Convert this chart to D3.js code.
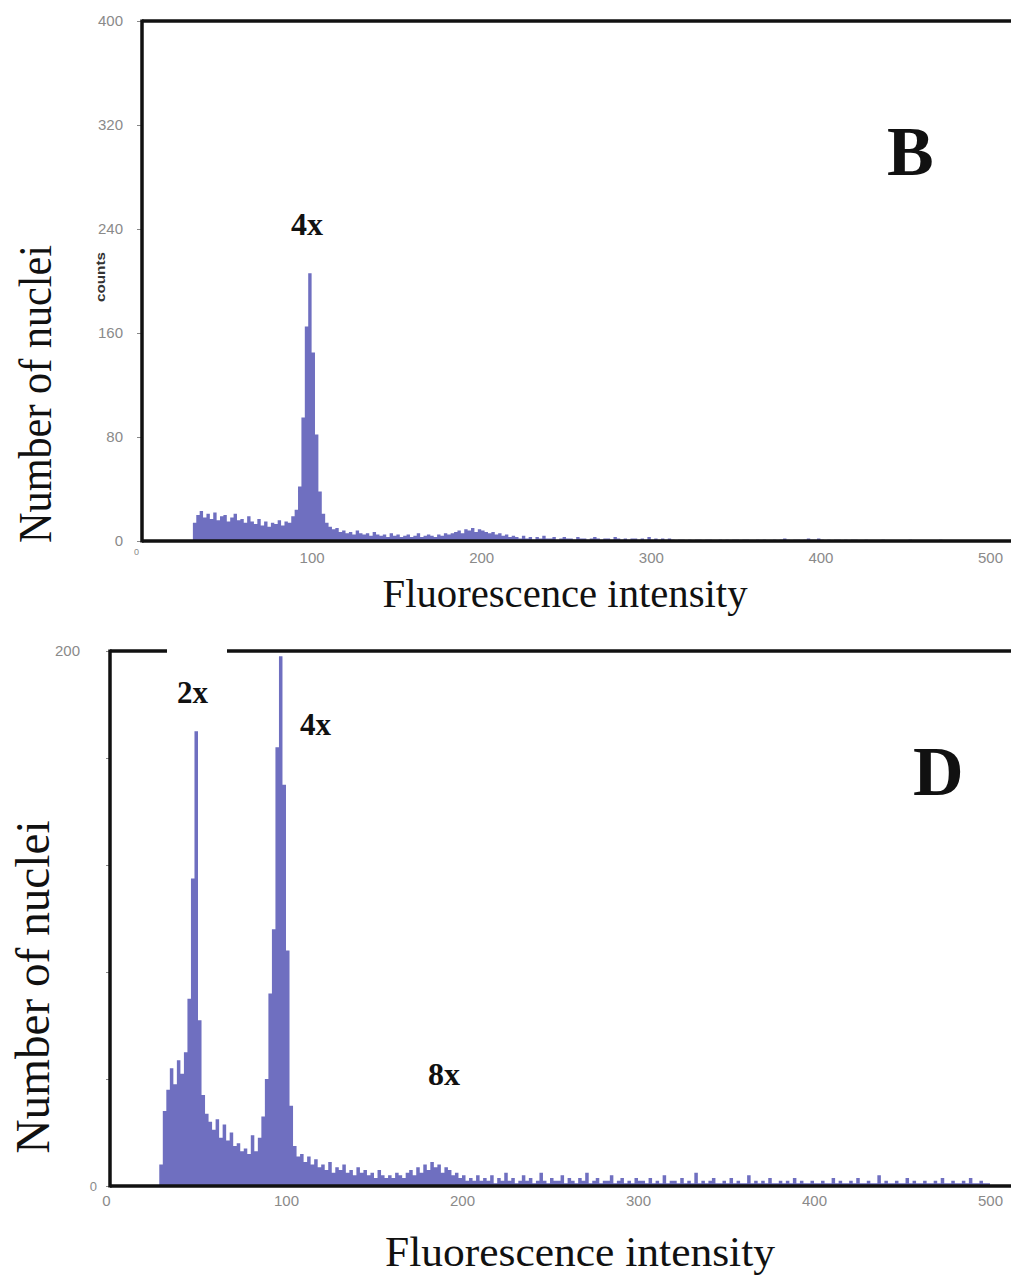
<!DOCTYPE html>
<html><head><meta charset="utf-8">
<script src="https://cdn.jsdelivr.net/npm/d3@7"></script>
<style>body{margin:0;background:#fff} svg{display:block}</style>
</head><body>
<svg id="chart" width="1011" height="1281"></svg>
<script>
// ---------- data ----------
const binWidth = 2;                       // channel width of each histogram bin
const xTicks = [0, 100, 200, 300, 400, 500];
const yTicksB = [0, 80, 160, 240, 320, 400];
const yTicksD = [0, 40, 80, 120, 160, 200];
const yLabelsD = [0, 200];

// Panel B: counts per bin (bins start at channel 0, width 2)
const countsB = [
  0,0,0,0,0,0,0,0,0,0,0,0,0,0,0,
  14,20,23,18,21,17,22,16,19,20,15,18,21,16,17,14,19,15,13,17,12,15,11,14,13,16,12,15,14,19,
  24,42,95,165,206,145,82,38,21,14,11,
  9,10,7,8,6,7,5,8,6,5,6,4,7,5,4,5,3,6,4,5,3,4,5,3,4,6,3,4,5,4,3,5,4,6,5,
  6,7,8,6,9,8,10,7,9,8,7,6,7,5,6,4,5,3,4,
  3,2,4,2,3,1,3,2,4,2,2,3,1,2,3,2,2,1,3,2,2,1,2,3,2,1,2,2,1,3,2,1,2,1,2,2,1,2,1,3,1,2,1,2,1,2,
  1,0,1,1,0,1,0,1,1,0,1,1,0,0,1,0,1,0,1,1,0,1,1,0,0,1,0,1,0,0,1,0,1,2,1,0,1,1,0,1,2,1,1,2,1,0,1,0,1,1,0,1,0,1,1,
  0,0,1,0,0,0,0,1,0,0,0,0,0,0,0,1,0,0,0,0,0,0,0,0,1,0,0,0,0,0,0,0,0,0,0,0,0,0,0
];

// Panel D: counts per bin (bins start at channel 0, width 2)
const countsD = [
  0,0,0,0,0,0,0,0,0,0,0,0,0,0,
  8,28,36,44,38,47,42,50,70,115,170,62,34,27,24,
  21,25,18,23,17,20,15,16,13,14,12,19,13,18,26,
  40,72,96,164,198,150,88,30,15,11,
  12,9,11,8,10,7,8,6,9,5,7,6,8,5,6,4,7,5,6,4,5,3,6,4,3,4,3,5,4,3,5,6,4,7,5,8,6,9,7,8,5,7,6,4,5,3,4,2,3,2,4,2,
  3,2,4,1,3,2,5,2,3,1,2,4,2,3,1,2,5,2,1,3,2,2,4,1,3,2,1,3,2,5,1,2,3,1,2,2,4,1,2,3,1,2,1,3,2,
  2,1,3,1,2,1,4,1,2,2,1,3,1,2,1,5,1,2,1,2,3,1,1,2,1,3,1,2,1,1,4,1,2,1,2,1,3,1,1,2,1,2,1,3,1,2,1,1,2,1,
  1,2,1,1,3,1,2,1,1,2,1,3,1,1,2,1,1,4,1,2,1,1,2,1,1,3,1,2,1,1,2,1,1,2,1,3,1,1,2,1,1,2,1,3,1,1,2,1,1
];

// ---------- drawing ----------
const svg = d3.select("#chart");
const FILL = "#6f6fc0";
const SERIF = "'Liberation Serif', 'Times New Roman', serif";
const SANS = "'Liberation Sans', Arial, sans-serif";

function panel(opts) {
  const { counts, x, y, yTicks, yFmt, frameRight, gap } = opts;
  const g = svg.append("g");
  const pts = counts.map((v, i) => [i * binWidth, v]);
  pts.push([counts.length * binWidth, 0]);
  const area = d3.area()
    .x(d => x(d[0])).y0(y(0)).y1(d => y(d[1]))
    .curve(d3.curveStepAfter);
  g.append("path").datum(pts).attr("d", area).attr("fill", FILL);

  // y axis ticks + labels
  const ya = g.append("g").attr("transform", `translate(${x(0)},0)`)
    .call(d3.axisLeft(y).tickValues(yTicks).tickSize(opts.yTickSize).tickPadding(opts.yPad).tickFormat(yFmt));
  ya.select(".domain").remove();
  ya.selectAll(".tick line").attr("stroke", "#888").attr("stroke-width", 1);
  ya.selectAll(".tick text").attr("fill", "#8a8a8a").style("font-family", SANS).style("font-size", "15px");

  // x axis labels
  const xa = g.append("g").attr("transform", `translate(0,${y(0)})`)
    .call(d3.axisBottom(x).tickValues(xTicks).tickSize(0).tickPadding(opts.xPad));
  xa.select(".domain").remove();
  xa.selectAll(".tick text").attr("fill", "#8a8a8a").style("font-family", SANS).style("font-size", "15px");

  // frame
  const x0 = x(0), yb = y(0), yt = y(yTicks[yTicks.length - 1]);
  const line = (a, b, c, d) => g.append("line").attr("x1", a).attr("y1", b).attr("x2", c).attr("y2", d)
    .attr("stroke", "#111").attr("stroke-width", 3.5);
  line(x0, yt - 1.5, x0, yb + 1.5);
  line(x0, yb, frameRight, yb);
  if (gap) { line(x0, yt, gap[0], yt); line(gap[1], yt, frameRight, yt); }
  else line(x0, yt, frameRight, yt);
  return { g, ya, xa };
}

// Panel B
const xB = d3.scaleLinear().domain([0, 500]).range([142, 990]);
const yB = d3.scaleLinear().domain([0, 400]).range([541, 21]);
const pB = panel({ counts: countsB, x: xB, y: yB, yTicks: yTicksB, yFmt: d => d,
  yTickSize: 5, yPad: 14, xPad: 11, frameRight: 1011 });
pB.xa.selectAll(".tick text").filter(d => d === 0)
  .style("font-size", "9px").attr("dx", -6).attr("dy", "0.3em");

// Panel D
const xD = d3.scaleLinear().domain([0, 500]).range([110, 990]);
const yD = d3.scaleLinear().domain([0, 200]).range([1186, 651]);
const pD = panel({ counts: countsD, x: xD, y: yD, yTicks: yTicksD,
  yFmt: d => yLabelsD.includes(d) ? d : "",
  yTickSize: 4, yPad: 9, xPad: 9, frameRight: 1011, gap: [167, 227] });
pD.ya.selectAll(".tick text").filter(d => d === 200).attr("dx", -17);
pD.ya.selectAll(".tick text").filter(d => d === 0).style("font-size", "13px");
pD.xa.selectAll(".tick text").filter(d => d === 0).attr("dx", -4);

// ---------- titles & annotations ----------
function txt(t, x, y, size, opts = {}) {
  const e = svg.append("text").attr("x", x).attr("y", y).text(t)
    .style("font-family", opts.family || SERIF).style("font-size", size + "px")
    .attr("fill", opts.fill || "#111")
    .attr("text-anchor", opts.anchor || "start")
    .style("font-weight", opts.weight || "normal");
  if (opts.rotate) e.attr("transform", `rotate(-90,${x},${y})`);
  if (opts.len) e.attr("textLength", opts.len).attr("lengthAdjust", "spacingAndGlyphs");
  return e;
}
txt("Number of nuclei", 51, 394, 46, { anchor: "middle", rotate: true, len: 298 });
txt("Number of nuclei", 49, 987, 48, { anchor: "middle", rotate: true, len: 333 });
txt("counts", 105, 277, 12, { anchor: "middle", rotate: true, len: 50, family: SANS, weight: "bold", fill: "#333" });
txt("Fluorescence intensity", 565, 607, 40, { anchor: "middle", len: 365 });
txt("Fluorescence intensity", 580, 1266, 42, { anchor: "middle", len: 390 });
txt("B", 887, 175, 70, { weight: "bold" });
txt("D", 913, 795, 70, { weight: "bold" });
txt("4x", 291, 235, 32, { weight: "bold" });
txt("2x", 177, 703, 31, { weight: "bold" });
txt("4x", 300, 735, 31, { weight: "bold" });
txt("8x", 428, 1085, 32, { weight: "bold" });
</script>
</body></html>
